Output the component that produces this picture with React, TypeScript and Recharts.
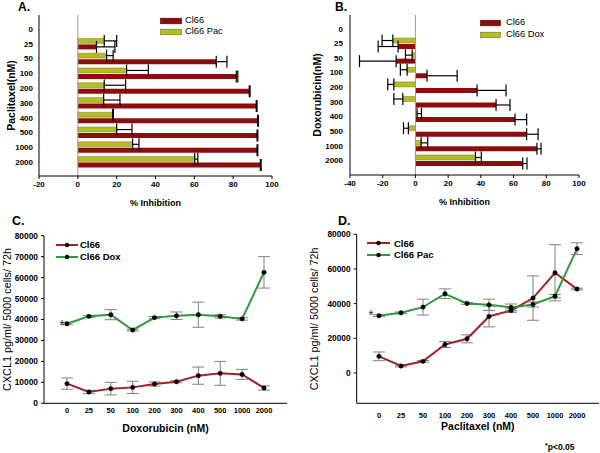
import React from 'react';
import {
  BarChart, Bar, LineChart, Line, XAxis, YAxis, ErrorBar, ReferenceLine, Legend,
} from 'recharts';

const FONT = '"Liberation Sans", Arial, sans-serif';

// ---------- data ----------
const doses = ['0', '25', '50', '100', '200', '300', '400', '500', '1000', '2000'];

// Panel A: % inhibition, paclitaxel
const inhibA_cl66 = [0, 9.6, 71.3, 81.6, 88.3, 91.9, 92.6, 92.3, 92.3, 94.0];
const inhibA_cl66Err = [5.2, 9.5, 5.5, 0.8, 0.4, 0.4, 0.4, 0.4, 0.4, 0.4];
const inhibA_pac = [0, 13.6, 14.8, 25.1, 13.6, 13.3, 17.9, 20.0, 28.2, 60.2];
const inhibA_pacErr = [-5.2, 6.4, 3.4, 11.2, 11.0, 8.4, 0.4, 7.9, 3.3, 1.6];
const ticksA = [-20, 0, 20, 40, 60, 80, 100];

// Panel B: % inhibition, doxorubicin
const inhibB_cl66 = [0, -10.6, -11.8, 7.1, 37.7, 49.3, 60.9, 68.0, 74.3, 65.6];
const inhibB_cl66Err = [-5.7, -12.2, -22.4, 18.4, 17.7, 8.5, 7.1, 7.0, 2.5, 2.6];
const inhibB_dox = [0, -13.8, -2.0, -5.1, -13.2, -7.7, 1.0, -4.3, 3.5, 36.7];
const inhibB_doxErr = [9.0, -6.6, -4.1, -4.1, -3.7, -5.5, 2.7, -3.0, 4.0, 3.6];
const ticksB = [-40, -20, 0, 20, 40, 60, 80, 100];

// Panel C: CXCL1, doxorubicin
const cxclC_cl66 = [9400, 5400, 7000, 7600, 9200, 10300, 13200, 14300, 13800, 7300];
const cxclC_cl66Err = [2700, 800, 3000, 2900, 1000, 500, 4100, 5700, 2400, 1000];
const cxclC_dox = [38000, 41500, 42300, 35000, 40900, 41800, 42300, 41500, 40300, 62500];
const cxclC_doxErr = [500, 500, 2400, 400, 500, 1800, 6000, 800, 600, 7500];
const ticksC = [0, 10000, 20000, 30000, 40000, 50000, 60000, 70000, 80000];

// Panel D: CXCL1, paclitaxel
const cxclD_cl66 = [9600, 4000, 6700, 16400, 19700, 32600, 36000, 43200, 57800, 48400];
const cxclD_cl66Err = [2500, 500, 500, 1700, 2300, 6000, 1000, 12800, 16200, 500];
const cxclD_pac = [33000, 34700, 38000, 45700, 40100, 39300, 37800, 39500, 44300, 71700];
const cxclD_pacErr = [500, 500, 4600, 2800, 500, 3300, 2000, 1500, 1000, 3400];
const ticksD = [0, 20000, 40000, 60000, 80000];

// one-sided error (extends away from the bar, sign gives direction)
const oneSided = (e: number) => (e < 0 ? [-e, 0] : [0, e]);

const rowsA = doses.map((d, i) => ({
  dose: d,
  cl66: inhibA_cl66[i], cl66Err: oneSided(inhibA_cl66Err[i]),
  treat: inhibA_pac[i], treatErr: oneSided(inhibA_pacErr[i]),
}));
const rowsB = doses.map((d, i) => ({
  dose: d,
  cl66: inhibB_cl66[i], cl66Err: oneSided(inhibB_cl66Err[i]),
  treat: inhibB_dox[i], treatErr: oneSided(inhibB_doxErr[i]),
}));
const rowsC = doses.map((d, i) => ({
  dose: d, cl66: cxclC_cl66[i], cl66Err: cxclC_cl66Err[i], treat: cxclC_dox[i], treatErr: cxclC_doxErr[i],
}));
const rowsD = doses.map((d, i) => ({
  dose: d, cl66: cxclD_cl66[i], cl66Err: cxclD_cl66Err[i], treat: cxclD_pac[i], treatErr: cxclD_pacErr[i],
}));

// ---------- styles ----------
const RED_BAR = '#8C0D0D';
const GREEN_BAR = '#B5BD24';
const RED_LINE = '#A12222';
const GREEN_LINE = '#2E9B38';

const tickBold = (size: number) => ({ fill: '#000', fontSize: size, fontWeight: 'bold' as const, fontFamily: FONT });
const axisTitle = (size: number, bold = true) => ({
  fill: '#000', fontSize: size, fontWeight: bold ? ('bold' as const) : ('normal' as const), fontFamily: FONT, textAnchor: 'middle' as const,
});

function LegendBox(props: any) {
  const { payload, order, kind, fontSize, bold, swatchW, gap, rowH } = props;
  const items = order
    .map((k: string) => (payload || []).find((p: any) => p.dataKey === k))
    .filter(Boolean);
  return (
    <div style={{ fontFamily: FONT, fontSize, fontWeight: bold ? 'bold' : 'normal', color: '#000' }}>
      {items.map((it: any) => (
        <div key={it.dataKey} style={{ display: 'flex', alignItems: 'center', height: rowH, whiteSpace: 'nowrap' }}>
          <svg width={swatchW} height={8} style={{ display: 'block' }}>
            {kind === 'bar' ? (
              <rect x={0.5} y={1.2} width={swatchW - 1} height={5.6} fill={it.color} stroke={it.dataKey === 'treat' ? '#6f7512' : '#4a0000'} strokeWidth={0.6} />
            ) : (
              <g>
                <line x1={0} y1={4} x2={swatchW} y2={4} stroke={it.color} strokeWidth={2} />
                <circle cx={swatchW / 2} cy={4} r={2.2} fill="#000" />
              </g>
            )}
          </svg>
          <span style={{ marginLeft: gap, lineHeight: `${rowH}px` }}>{it.value}</span>
        </div>
      ))}
    </div>
  );
}

function PanelBars(props: any) {
  const { rows, ticks, domain, yWidth, margin, yTitle, treatName, legendPos, yPad, yTickSize } = props;
  return (
    <BarChart width={300} height={230} data={rows} layout="vertical" margin={margin} barSize={5} barGap={1}>
      <XAxis
        type="number" domain={domain} ticks={ticks} allowDataOverflow interval={0}
        tickSize={3} tickMargin={2} height={40}
        axisLine={{ stroke: '#000' }} tickLine={{ stroke: '#000' }}
        tick={tickBold(8)}
        label={{ value: '% Inhibition', position: 'insideBottom', offset: 10, style: axisTitle(9) }}
      />
      <YAxis
        type="category" dataKey="dose" width={yWidth} interval={0}
        tickLine={false} tickSize={yTickSize} tickMargin={2} padding={yPad}
        axisLine={{ stroke: '#000' }}
        tick={tickBold(8)}
        label={{ value: yTitle, angle: -90, position: 'insideLeft', offset: props.yTitleOffset, dx: 5, style: axisTitle(10.5) }}
      />
      <ReferenceLine x={0} stroke="#9a9a9a" strokeWidth={1} />
      <Bar dataKey="treat" name={treatName} fill={GREEN_BAR} stroke="#7d8414" strokeWidth={0.5} isAnimationActive={false}>
        <ErrorBar dataKey="treatErr" direction="x" width={6} stroke="#000" strokeWidth={1.2} />
      </Bar>
      <Bar dataKey="cl66" name="Cl66" fill={RED_BAR} isAnimationActive={false}>
        <ErrorBar dataKey="cl66Err" direction="x" width={6} stroke="#000" strokeWidth={1.2} />
      </Bar>
      <Legend
        layout="vertical" align="center" verticalAlign="middle"
        wrapperStyle={{ left: legendPos.left, top: legendPos.top, width: 'auto', height: 'auto' }}
        content={(p: any) => (
          <LegendBox payload={p.payload} order={['cl66', 'treat']} kind="bar" fontSize={9.3} bold={false}
            swatchW={legendPos.sw} gap={legendPos.gap} rowH={11.7} />
        )}
      />
    </BarChart>
  );
}

function PanelLines(props: any) {
  const { rows, ticks, domain, yWidth, margin, xTitle, treatName, legendPos, xPad, xTickMargin, yTitleOffset, yTitleDx } = props;
  return (
    <LineChart width={300} height={223} data={rows} margin={margin}>
      <XAxis
        dataKey="dose" interval={0} padding={xPad}
        tickLine={false} tickSize={0} tickMargin={xTickMargin} height={40}
        axisLine={{ stroke: '#000' }}
        tick={tickBold(7.5)}
        label={{ value: xTitle, position: 'insideBottom', offset: props.xTitleOffset, style: axisTitle(10.5) }}
      />
      <YAxis
        type="number" domain={domain} ticks={ticks} allowDataOverflow interval={0}
        width={yWidth} tickSize={3} tickMargin={3}
        axisLine={{ stroke: '#000' }} tickLine={{ stroke: '#000' }}
        tick={tickBold(8.4)}
        label={{ value: 'CXCL1 pg/ml/ 5000 cells/ 72h', angle: -90, position: 'insideLeft', offset: yTitleOffset, dx: yTitleDx, style: axisTitle(10.8, false) }}
      />
      <Line
        dataKey="cl66" name="Cl66" type="linear" stroke={RED_LINE} strokeWidth={2}
        dot={{ r: 2.2, fill: '#000', stroke: '#000', strokeWidth: 0.5 }} activeDot={false} isAnimationActive={false}
      >
        <ErrorBar dataKey="cl66Err" direction="y" width={6} stroke="#808080" strokeWidth={1} />
      </Line>
      <Line
        dataKey="treat" name={treatName} type="linear" stroke={GREEN_LINE} strokeWidth={2}
        dot={{ r: 2.2, fill: '#000', stroke: '#000', strokeWidth: 0.5 }} activeDot={false} isAnimationActive={false}
      >
        <ErrorBar dataKey="treatErr" direction="y" width={6} stroke="#808080" strokeWidth={1} />
      </Line>
      <Legend
        layout="vertical" align="center" verticalAlign="middle"
        wrapperStyle={{ left: legendPos.left, top: legendPos.top, width: 'auto', height: 'auto' }}
        content={(p: any) => (
          <LegendBox payload={p.payload} order={['cl66', 'treat']} kind="line" fontSize={9.5} bold
            swatchW={legendPos.sw} gap={legendPos.gap} rowH={11.7} />
        )}
      />
    </LineChart>
  );
}

export default function App() {
  return (
    <div style={{ position: 'absolute', left: 0, top: 0, width: 600, height: 453, background: '#fff', overflow: 'hidden' }}>
      <div style={{ position: 'absolute', left: 0, top: 0 }}>
        <PanelBars
          rows={rowsA} ticks={ticksA} domain={[-20, 100]} yWidth={39} yTickSize={4}
          margin={{ top: 15, right: 28, bottom: 14, left: 0 }} yPad={{ top: 6.6, bottom: 6.6 }}
          yTitle="Paclitaxel(nM)" yTitleOffset={6} treatName="Cl66 Pac"
          legendPos={{ left: 160, top: 14.8, sw: 22, gap: 3 }}
        />
      </div>
      <div style={{ position: 'absolute', left: 300, top: 0 }}>
        <PanelBars
          rows={rowsB} ticks={ticksB} domain={[-40, 100]} yWidth={50} yTickSize={5}
          margin={{ top: 15, right: 21, bottom: 15, left: 0 }} yPad={{ top: 6.4, bottom: 7.4 }}
          yTitle="Doxorubicin(nM)" yTitleOffset={12.5} treatName="Cl66 Dox"
          legendPos={{ left: 180, top: 17.4, sw: 21, gap: 5 }}
        />
      </div>
      <div style={{ position: 'absolute', left: 0, top: 230 }}>
        <PanelLines
          rows={rowsC} ticks={ticksC} domain={[0, 80000]} yWidth={44}
          margin={{ top: 5.7, right: 13, bottom: 9.7, left: 0 }} xPad={{ left: 23, right: 23 }} xTickMargin={4}
          xTitle="Doxorubicin (nM)" xTitleOffset={11.7} yTitleOffset={4.3} yTitleDx={3} treatName="Cl66 Dox"
          legendPos={{ left: 56, top: 9.2, sw: 22, gap: 2 }}
        />
      </div>
      <div style={{ position: 'absolute', left: 300, top: 230 }}>
        <PanelLines
          rows={rowsD} ticks={ticksD} domain={[-17500, 80000]} yWidth={56.7}
          margin={{ top: 4.3, right: 1, bottom: 9.7, left: 0 }} xPad={{ left: 22.3, right: 22 }} xTickMargin={9}
          xTitle="Paclitaxel (nM)" xTitleOffset={13} yTitleOffset={14} yTitleDx={0} treatName="Cl66 Pac"
          legendPos={{ left: 67, top: 7.5, sw: 23, gap: 4 }}
        />
      </div>
      <svg width={600} height={453} style={{ position: 'absolute', left: 0, top: 0, pointerEvents: 'none' }}>
        <g fontFamily={FONT} fontWeight="bold" fill="#000">
          <text x={18} y={10.5} fontSize={12}>A.</text>
          <text x={335} y={10.5} fontSize={12}>B.</text>
          <text x={12} y={225} fontSize={12.5}>C.</text>
          <text x={338} y={225} fontSize={12.5}>D.</text>
        </g>
        <g fontFamily={FONT} fill="#333" textAnchor="middle">
          <text x={62} y={330} fontSize={14}>*</text>
          <text x={371} y={319.7} fontSize={14}>*</text>
        </g>
        <text x={545} y={450} fontFamily={FONT} fontWeight="bold" fontSize={8.5} fill="#000">
          <tspan fontSize={7} dy={-2}>*</tspan>
          <tspan dy={2}>p&lt;0.05</tspan>
        </text>
      </svg>
    </div>
  );
}
